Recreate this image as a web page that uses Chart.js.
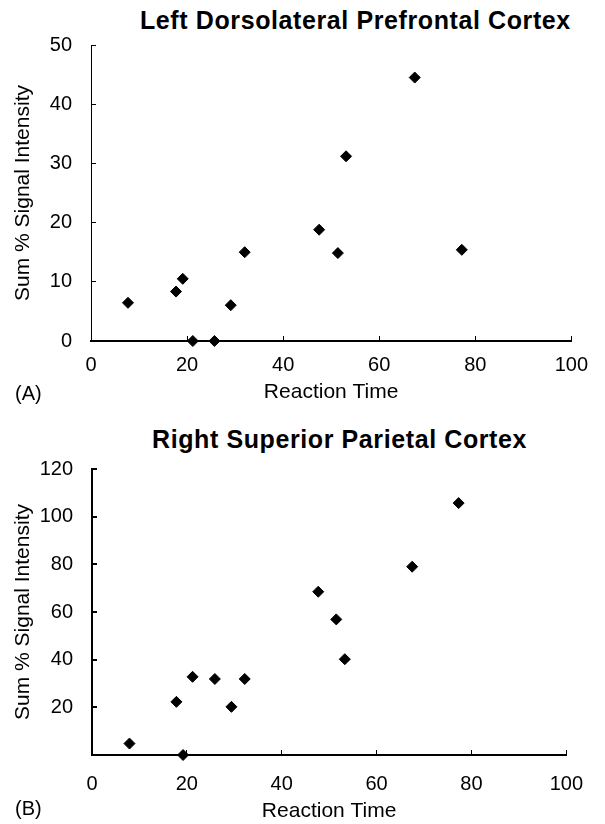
<!DOCTYPE html>
<html>
<head>
<meta charset="utf-8">
<script src="https://cdn.jsdelivr.net/npm/chart.js@4"></script>
<style>
    body { margin: 0; background: #fff; }
    #page { position: relative; width: 605px; height: 824px; overflow: hidden; font-family: "Liberation Sans", Arial, Helvetica, sans-serif; color: #000; }
    canvas { position: absolute; left: 0; }
    .title { position: absolute; font-weight: bold; font-size: 25px; line-height: 25px; letter-spacing: 0.6px; white-space: nowrap; }
    .panel { position: absolute; left: 15px; font-size: 20px; line-height: 20px; }
</style>
</head>
<body>
<div id="page">
    <div class="title" style="left:140px; top:8px;">Left Dorsolateral Prefrontal Cortex</div>
    <canvas id="chart_a" width="605" height="410" style="top:0px;"></canvas>
    <div class="panel" style="top:383px;">(A)</div>

    <div class="title" style="left:152px; top:427px;">Right Superior Parietal Cortex</div>
    <canvas id="chart_b" width="605" height="414" style="top:410px;"></canvas>
    <div class="panel" style="top:798px;">(B)</div>
</div>
<script>
// panel A - left dorsolateral prefrontal cortex
const reactionTimeA = [7.7, 17.7, 19.1, 21.2, 25.7, 29.1, 32.0, 47.5, 51.4, 53.1, 67.4, 77.2];
const signalA = [6.45, 8.35, 10.5, 0, 0, 6.05, 15.0, 18.8, 14.85, 31.2, 44.5, 15.4];

// panel B - right superior parietal cortex
const reactionTimeB = [7.9, 17.8, 19.2, 21.2, 25.9, 29.4, 32.2, 47.7, 51.5, 53.3, 67.5, 77.3];
const signalB = [4.8, 22.3, 0, 32.8, 31.9, 20.2, 31.9, 68.5, 56.9, 40.2, 79.0, 105.7];

const xAxisTitle = 'Reaction Time';
const yAxisTitle = 'Sum % Signal Intensity';
const xRange = [0, 100];
const xStep = 20;
const yRangeA = [0, 50];
const yStepA = 10;
const yRangeB = [0, 120];
const yStepB = 20;

const fontFamily = '"Liberation Sans", Arial, Helvetica, sans-serif';

function toPoints(xs, ys) {
    return xs.map((x, i) => ({ x: x, y: ys[i] }));
}

function buildConfig(xs, ys, yRange, yStep, box) {
    return {
        type: 'scatter',
        data: {
            datasets: [{
                data: toPoints(xs, ys),
                pointStyle: 'rectRot',
                pointRadius: 5.5,
                pointHoverRadius: 5.5,
                backgroundColor: '#000',
                borderColor: '#000',
                borderWidth: 1,
                clip: false,
            }],
        },
        options: {
            responsive: false,
            animation: false,
            layout: {
                padding: { top: box.top, right: box.right, left: 0, bottom: 0 },
            },
            plugins: {
                legend: { display: false },
                tooltip: { enabled: false },
            },
            scales: {
                x: {
                    type: 'linear',
                    min: xRange[0],
                    max: xRange[1],
                    afterFit: (scale) => { scale.height = box.xHeight; },
                    grid: {
                        drawOnChartArea: false,
                        color: '#000',
                        lineWidth: 1,
                        tickLength: -5,
                    },
                    border: { color: '#000', width: 2 },
                    ticks: {
                        stepSize: xStep,
                        color: '#000',
                        padding: box.xTickPad,
                        maxRotation: 0,
                        font: { family: fontFamily, size: 20 },
                    },
                    title: {
                        display: true,
                        text: xAxisTitle,
                        color: '#000',
                        padding: { top: 0, bottom: box.xTitlePad },
                        font: { family: fontFamily, size: 21 },
                    },
                },
                y: {
                    type: 'linear',
                    min: yRange[0],
                    max: yRange[1],
                    afterFit: (scale) => { scale.width = box.left; },
                    grid: {
                        drawOnChartArea: false,
                        color: '#000',
                        lineWidth: box.yLine,
                        tickLength: -5,
                    },
                    border: { color: '#000', width: box.yLine },
                    ticks: {
                        stepSize: yStep,
                        color: '#000',
                        padding: 24,
                        font: { family: fontFamily, size: 20 },
                        callback: (value) => (value === 0 && !box.showZero) ? '' : value,
                    },
                    title: {
                        display: true,
                        text: yAxisTitle,
                        color: '#000',
                        padding: { top: 11, bottom: 0 },
                        font: { family: fontFamily, size: 21 },
                    },
                },
            },
        },
    };
}

function createCharts() {
    const ctxA = document.getElementById('chart_a').getContext('2d');
    window.chartA = new Chart(ctxA, buildConfig(reactionTimeA, signalA, yRangeA, yStepA, {
        top: 45, right: 24, left: 91, xHeight: 69, xTickPad: 17, xTitlePad: 5, yLine: 1, showZero: true,
    }));

    const ctxB = document.getElementById('chart_b').getContext('2d');
    window.chartB = new Chart(ctxB, buildConfig(reactionTimeB, signalB, yRangeB, yStepB, {
        top: 59, right: 22, left: 92, xHeight: 69, xTickPad: 22, xTitlePad: 0, yLine: 2, showZero: false,
    }));
}

createCharts();
</script>
</body>
</html>
